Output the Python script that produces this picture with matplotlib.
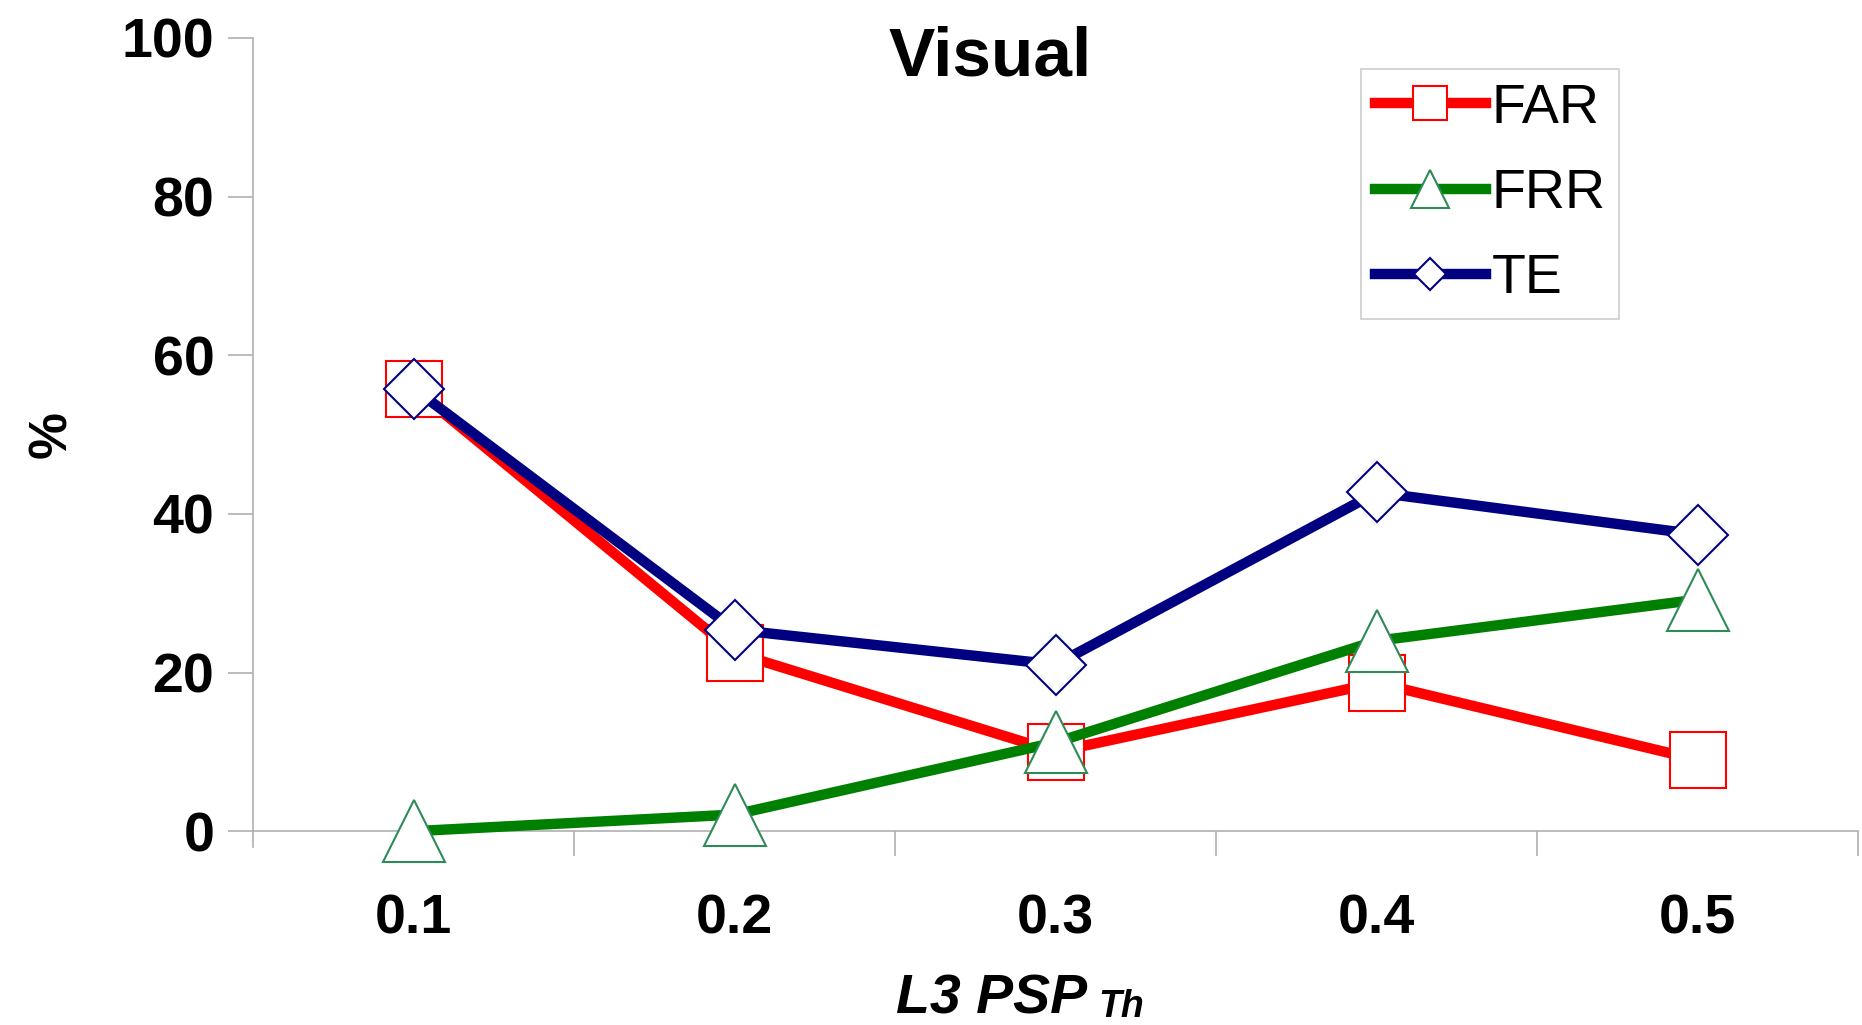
import matplotlib
matplotlib.use('Agg')
import matplotlib.pyplot as plt

# datos
umbrales = ['0.1', '0.2', '0.3', '0.4', '0.5']
far = [55.8, 22.5, 10.0, 18.7, 9.0]
frr = [0.0, 2.1, 11.2, 24.0, 29.2]
te = [55.8, 25.4, 21.0, 42.7, 37.4]

plt.rcParams['font.family'] = ['Liberation Sans', 'DejaVu Sans']

fig = plt.figure(figsize=(18.62, 10.25), dpi=100)
ax = fig.add_axes([0.136, 0.189, 0.862, 0.774])

x = list(range(len(umbrales)))
ax.plot(x, far, color='#ff0000', lw=7.5, marker='s', ms=40, mfc='white',
        mec='#ff0000', mew=1.5, label='FAR', zorder=3, clip_on=False)
ax.plot(x, frr, color='#008000', lw=7.5, marker='^', ms=44, mfc='white',
        mec='#2e8b57', mew=1.5, label='FRR', zorder=4, clip_on=False)
ax.plot(x, te, color='#000080', lw=7.5, marker='D', ms=31, mfc='white',
        mec='#000080', mew=1.5, label='TE', zorder=5, clip_on=False)

ax.set_xlim(-0.5, 4.5)
ax.set_ylim(-0.01, 100)
ax.set_yticks([0, 20, 40, 60, 80, 100])
ax.set_xticks(x)
ax.set_xticklabels(umbrales)
ax.set_xticks([0.5, 1.5, 2.5, 3.5, 4.5], minor=True)
ax.tick_params(axis='x', which='major', length=0, pad=45)
ax.tick_params(axis='x', which='minor', length=18, color='#b0b0b0', width=1.2)
ax.tick_params(axis='y', length=18, color='#b0b0b0', width=1.2, pad=10)
for lab in ax.get_xticklabels() + ax.get_yticklabels():
    lab.set_fontsize(40)
    lab.set_fontweight('bold')

for s in ['top', 'right']:
    ax.spines[s].set_visible(False)
for s in ['left', 'bottom']:
    ax.spines[s].set_color('#b0b0b0')
    ax.spines[s].set_linewidth(1.2)
ax.spines['left'].set_bounds(-2, 100)

ax.text(0.459, 0.975, 'Visual', transform=ax.transAxes, fontsize=50,
        fontweight='bold', ha='center', va='center')
ax.set_ylabel('%', fontsize=38, fontweight='bold', labelpad=32)
ax.set_xlabel('L3 PSP', fontsize=40, fontweight='bold', style='italic')
ax.xaxis.set_label_coords(0.46, -0.212)
ax.xaxis.label.set_va('center')
ax.annotate('Th', xy=(1, 0), xycoords=ax.xaxis.label, xytext=(8, 0),
            textcoords='offset points', fontsize=27, fontweight='bold',
            style='italic', va='bottom')

leg = ax.legend(loc='upper left', bbox_to_anchor=(0.69, 0.961), borderaxespad=0,
                fontsize=40, frameon=True, fancybox=False, edgecolor='#c0c0c0',
                handlelength=2.0, handletextpad=0.1, labelspacing=0.6,
                borderpad=0.25)
leg.get_frame().set_linewidth(1.2)
for h, m in zip(leg.legend_handles, [24, 28, 16]):
    h.set_markersize(m)

fig.savefig('out.png', dpi=100)
